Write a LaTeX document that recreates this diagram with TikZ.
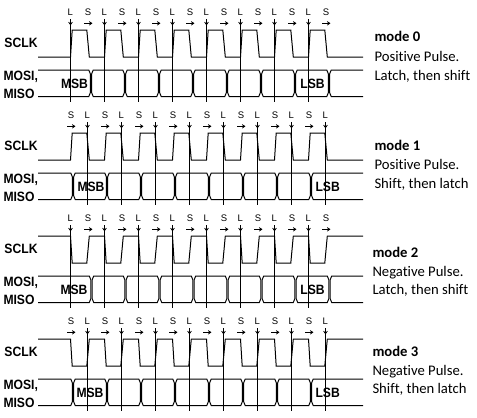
\documentclass[tikz,border=0pt]{standalone}
\usepackage{fontspec}
\setmainfont{Carlito}[Ligatures={NoCommon}]
\newfontfamily\pixfont{Liberation Sans}
\newfontfamily\pixbold{Liberation Sans}[FakeStretch=0.9]
\usetikzlibrary{arrows.meta}
\begin{document}
\begin{tikzpicture}[x=1pt,y=-1pt,line width=1pt,
  wave/.style={line width=1pt,line join=miter},
  tickline/.style={line width=1pt},
  sarrow/.style={line width=0.9pt,-{Stealth[length=3.5pt,width=4.5pt]}},
  larrow/.style={line width=1pt,-{Stealth[length=3.5pt,width=4.5pt]}},
  ticklbl/.style={font=\pixfont\fontsize{9.5}{9.5}\selectfont,inner sep=0pt,anchor=base},
  siglbl/.style={font=\pixbold\bfseries\fontsize{13.5}{13.5}\selectfont,inner sep=0pt,anchor=base west},
  bitlbl/.style={font=\pixbold\bfseries\fontsize{13.5}{13.5}\selectfont,inner sep=0pt},
  modehead/.style={font=\bfseries\fontsize{14.67}{16}\selectfont,inner sep=0pt,anchor=base west},
  modeline/.style={font=\fontsize{14.67}{16}\selectfont,inner sep=0pt,anchor=base west},
]
\useasboundingbox (0,0) rectangle (477,418);

\foreach \p/\dy/\base/\puls/\lx/\sx/\tr/\ma/\mx/\la/\lxx in
  {0/0/57/30/70.5/87.5/91/east/88.5/center/312.5,
   1/103/57/30/87.5/70.5/73/west/77/west/315,
   2/206/30/57/70.5/87.5/91.5/east/88/center/312.5,
   3/309/30/57/87.5/70.5/73/west/76/west/315}{
\begin{scope}[shift={(0,\dy)}]
  % SCLK waveform
  \draw[wave] (38,\base)
    \foreach \k in {0,...,7}{
      -- ({70.5+34*\k},\base) -- ({72.2+34*\k},\puls)
      -- ({86.8+34*\k},\puls) -- ({89.3+34*\k},\base) }
    -- (363,\base);
  % latch / shift markers
  \foreach \k in {0,...,7}{
    \draw[tickline] ({\lx+34*\k},19) -- ({\lx+34*\k},102);
    \draw[larrow] ({\lx+34*\k},19) -- ({\lx+34*\k},25.5);
    \draw[sarrow] ({\sx+34*\k-3.5},23.3) -- ({\sx+34*\k+5},23.3);
    \node[ticklbl] (lt\p-\k) at ({\lx+34*\k-0.3},15.8) {L};
    \node[ticklbl] (st\p-\k) at ({\sx+34*\k+0.5},15.8) {S};
  }
  % data cells
  \draw[wave] (38,70) -- ({\tr-2.2},70) -- ({\tr-0.6},74) -- ({\tr-0.6},92.5)
    -- ({\tr-2.2},96.5) -- (38,96.5);
  \foreach \k in {0,...,6}{
    \draw[wave] ({\tr+34*\k+2.2},70) -- ({\tr+34*\k+31.8},70)
      -- ({\tr+34*\k+33.4},74) -- ({\tr+34*\k+33.4},92.5)
      -- ({\tr+34*\k+31.8},96.5) -- ({\tr+34*\k+2.2},96.5)
      -- ({\tr+34*\k+0.6},92.5) -- ({\tr+34*\k+0.6},74) -- cycle;
  }
  \draw[wave] (363,70) -- ({\tr+240.2},70) -- ({\tr+238.6},74) -- ({\tr+238.6},92.5)
    -- ({\tr+240.2},96.5) -- (363,96.5);
  % texts
  \node[bitlbl,anchor=\ma] (msb\p) at (\mx,83.4) {MSB};
  \node[bitlbl,anchor=\la] (lsb\p) at (\lxx,83.4) {LSB};
  \node[siglbl] (sclk\p) at (4,47.8) {SCLK};
  \node[siglbl] (mosi\p) at (3,80) {MOSI,};
  \node[siglbl] (miso\p) at (3,98.2) {MISO};
\end{scope}
}

\node[modehead] (m0a) at (374,41.7) {mode 0};
\node[modeline] (m0b) at (374,61) {Positive Pulse.};
\node[modeline] (m0c) at (374,80) {Latch, then shift};
\node[modehead] (m1a) at (374,150) {mode 1};
\node[modeline] (m1b) at (374,169) {Positive Pulse.};
\node[modeline] (m1c) at (374,188.3) {Shift, then latch};
\node[modehead] (m2a) at (372,257.7) {mode 2};
\node[modeline] (m2b) at (372,276) {Negative Pulse.};
\node[modeline] (m2c) at (372,294.3) {Latch, then shift};
\node[modehead] (m3a) at (372,356.7) {mode 3};
\node[modeline] (m3b) at (372,375) {Negative Pulse.};
\node[modeline] (m3c) at (372,393.3) {Shift, then latch};
\end{tikzpicture}
\end{document}
